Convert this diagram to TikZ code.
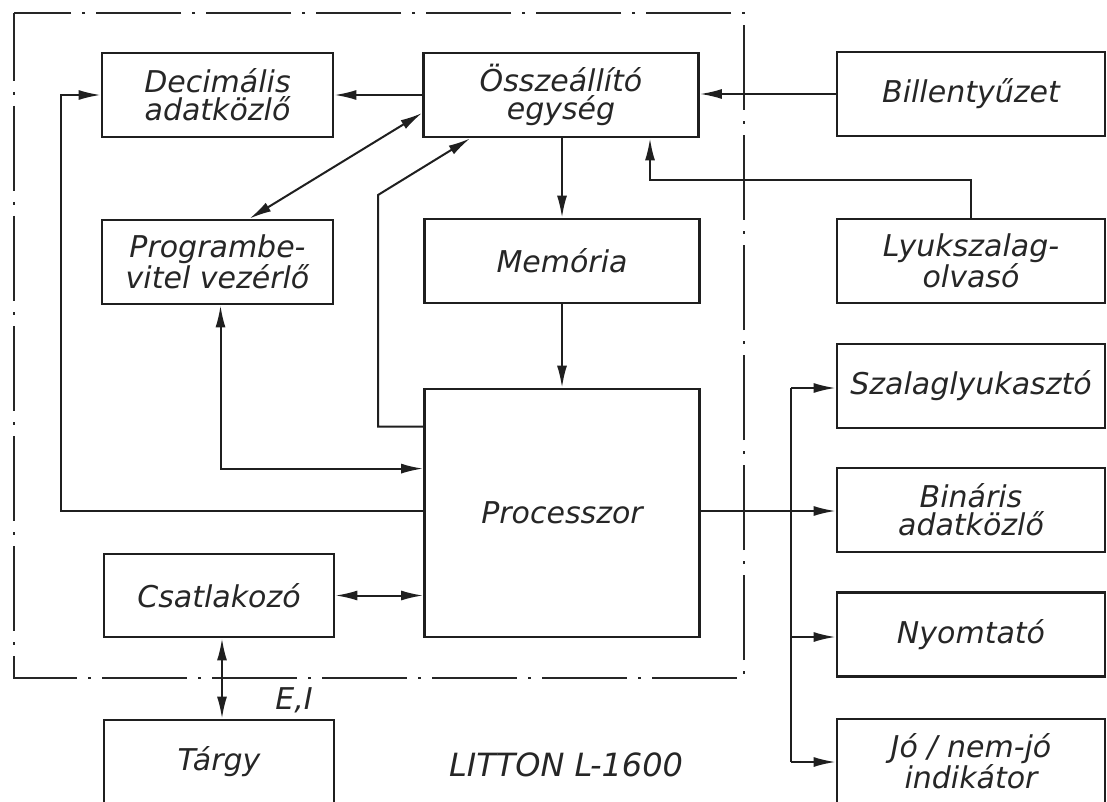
\documentclass[tikz,border=0pt]{standalone}
\usepackage{fontspec}
\setmainfont{DejaVu Sans}
\usetikzlibrary{arrows.meta,calc}

\tikzset{
  blk/.style={draw=black!88, line width=2.8pt, inner sep=0pt, align=center,
    font=\fontsize{30}{28}\selectfont\itshape, text=black!85},
  lbox/.style={blk, minimum width=231pt, minimum height=84pt},
  mbox/.style={blk, minimum width=275pt, minimum height=84pt},
  rbox/.style={blk, minimum width=268pt, minimum height=84pt},
  conn/.style={draw=black!88, line width=2pt},
  frame/.style={draw=black!85, line width=2.2pt,
    dash pattern=on 85pt off 11pt on 3pt off 11pt},
  lbl/.style={inner sep=0pt, font=\fontsize{30}{28}\selectfont\itshape, text=black!85},
  >={Latex[length=22pt,width=10pt]}
}

\begin{document}
\begin{tikzpicture}[x=1pt,y=-1pt]
  \useasboundingbox (0,0) rectangle (1107,802);
  \fill[white] (0,0) rectangle (1107,802);
  \clip (0,0) rectangle (1107,802);

  % dash-dot outline of the computer itself
  \draw[frame, dash phase=17pt] (14,13) rectangle (744,678);

  % units inside the computer
  \node[lbox] (dec)  at (217.5,95)  {Decimális\\adatközlő};
  \node[mbox] (oss)  at (561,95)    {Összeállító\\egység};
  \node[lbox] (prog) at (217.5,262) {Programbe-\\vitel vezérlő};
  \node[mbox] (mem)  at (562,261)   {Memória};
  \node[mbox, minimum height=248pt] (proc) at (562,513) {Processzor};
  \node[lbox, minimum width=230pt, minimum height=83pt] (csat) at (219,595.5) {Csatlakozó};

  % peripherals
  \node[rbox] (bill) at (971,94)    {Billentyűzet};
  \node[rbox] (lyuk) at (971,261)   {Lyukszalag-\\olvasó};
  \node[rbox] (szal) at (971,386)   {Szalaglyukasztó};
  \node[rbox] (bin)  at (971,510)   {Bináris\\adatközlő};
  \node[rbox] (nyom) at (971,634.5) {Nyomtató};
  \node[rbox] (jo)   at (971,761)   {Jó / nem-jó\\indikátor};
  \node[lbox, minimum width=230pt] (targy) at (219,762) {Tárgy};

  % labels
  \node[lbl] (ei) at (294,700) {E,I};
  \node[lbl, font=\fontsize{32}{26}\selectfont\itshape] (title) at (566,765) {LITTON L-1600};

  % turning points of the connectors
  \coordinate (lyukturn) at (650,180);
  \coordinate (pturn) at (378,195);
  \coordinate (dturn) at (61,95);
  \coordinate (busx) at (791,0);
  \coordinate (pout) at ($(proc.east)+(0,-2)$);
  \coordinate (pleft) at ($(proc.west)+(0,-2)$);

  % connectors
  \draw[conn,->] (oss.west) -- (dec.east);
  \draw[conn,->] (bill.west) -- (bill.west -| oss.east);
  \draw[conn,->] (lyuk.north) |- (lyukturn) -- (lyukturn |- oss.south);
  \draw[conn,->] (oss.south -| mem.north) -- (mem.north);
  \draw[conn,->] (mem.south) -- (proc.north);
  \draw[conn,<->] ($(oss.west)+(0,18)$) -- ($(prog.north)+(32,0)$);
  \draw[conn,->] ($(proc.north west)+(0,39)$) -| (pturn) -- ($(oss.south west)+(48,0)$);
  \draw[conn,<->] ($(prog.south)+(3,0)$) |- ($(proc.north west)+(0,81)$);
  \draw[conn,->] (pleft) -| (dturn) -- (dec.west);
  \draw[conn,<->] (csat.east) -- (csat.east -| proc.west);
  \draw[conn,<->] ($(csat.south)+(3,0)$) -- ($(targy.north)+(3,0)$);

  % output bus to the peripherals
  \draw[conn,->] (pout) -- (pout -| bin.west);
  \draw[conn] ($(szal.west -| busx)+(0,2)$) -- ($(jo.west -| busx)+(0,1)$);
  \draw[conn,->] ($(szal.west -| busx)+(0,2)$) -- ($(szal.west)+(0,2)$);
  \draw[conn,->] ($(nyom.west -| busx)+(0,2.5)$) -- ($(nyom.west)+(0,2.5)$);
  \draw[conn,->] ($(jo.west -| busx)+(0,1)$) -- ($(jo.west)+(0,1)$);
\end{tikzpicture}
\end{document}
